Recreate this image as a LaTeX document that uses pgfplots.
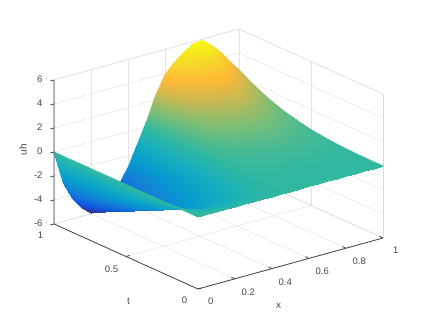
\documentclass[border=0pt]{standalone}
\usepackage{fontspec}
\setmainfont{Liberation Sans}
\usepackage{pgfplots}
\pgfplotsset{compat=1.18}
\pgfplotsset{colormap={parula}{rgb255=(53,42,135) rgb255=(14,88,225) rgb255=(20,125,215) rgb255=(6,155,206) rgb255=(20,174,190) rgb255=(50,184,160) rgb255=(120,190,120) rgb255=(195,185,85) rgb255=(254,185,55) rgb255=(245,218,40) rgb255=(249,251,14)}}
\definecolor{axc}{RGB}{70,70,70}
\pgfplotsset{tk/.style={color=axc, line width=0.8pt, no marks, forget plot, mark=none, solid}}
\begin{document}
\begin{tikzpicture}
\useasboundingbox (0,0) rectangle (424pt,319pt);
\begin{axis}[
  at={(198pt,102pt)}, anchor=origin,
  x={(185pt,51pt)}, y={(-144pt,65pt)}, z={(0pt,12pt)},
  xmin=0,xmax=1,ymin=0,ymax=1,zmin=-6,zmax=6,
  xtick={0,0.2,0.4,0.6,0.8,1}, ytick={0,0.5,1}, ztick={-6,-4,-2,0,2,4,6},
  xticklabel pos=lower, yticklabel pos=lower, zticklabel pos=lower,
  grid=major, grid style={gray!22, line width=0.5pt},
  axis line style={gray!30, line width=0.5pt},
  major tick length=0pt,
  tick style={draw=none},
  tick label style={font=\fontsize{9.5}{10}\selectfont, text=axc},
  xticklabel style={xshift=8pt,yshift=-5pt},
  yticklabel style={xshift=-8pt,yshift=-4pt},
  zticklabel style={xshift=-8pt},
  label style={font=\fontsize{10}{10}\selectfont, text=axc},
  xlabel style={xshift=-32pt,yshift=-11pt},
  ylabel style={xshift=26pt,yshift=-14pt},
  zlabel style={yshift=0pt},
  /pgf/number format/assume math mode=true,
  xlabel={x}, ylabel={t}, zlabel={uh},
  colormap name=parula, point meta min=-5.9, point meta max=5.95,
  clip=false,
]
\addplot3[surf, shader=interp, z buffer=none, mesh/rows=11, mesh/cols=21, mesh/ordering=x varies] coordinates {
(1,1,2.6)(0.95,1,3.5)(0.9,1,4.5)(0.85,1,5.3)(0.8,1,5.9)(0.75,1,5.8)(0.7,1,5.3)(0.65,1,4.7)(0.6,1,3.9)(0.55,1,2.4)(0.5,1,0.4)(0.45,1,-1.3)(0.4,1,-3.0)(0.35,1,-4.1)(0.3,1,-5.2)(0.25,1,-5.85)(0.2,1,-5.9)(0.15,1,-5.3)(0.1,1,-4.3)(0.05,1,-2.8)(0,1,0)
(1,0.9,1.90)(0.95,0.9,2.55)(0.9,0.9,3.28)(0.85,0.9,3.86)(0.8,0.9,4.30)(0.75,0.9,4.23)(0.7,0.9,3.86)(0.65,0.9,3.43)(0.6,0.9,2.84)(0.55,0.9,1.75)(0.5,0.9,0.32)(0.45,0.9,-1.17)(0.4,0.9,-2.70)(0.35,0.9,-3.69)(0.3,0.9,-4.68)(0.25,0.9,-5.27)(0.2,0.9,-5.31)(0.15,0.9,-4.77)(0.1,0.9,-3.87)(0.05,0.9,-2.52)(0,0.9,0)
(1,0.8,1.33)(0.95,0.8,1.79)(0.9,0.8,2.30)(0.85,0.8,2.71)(0.8,0.8,3.02)(0.75,0.8,2.97)(0.7,0.8,2.71)(0.65,0.8,2.41)(0.6,0.8,2.00)(0.55,0.8,1.23)(0.5,0.8,0.26)(0.45,0.8,-1.04)(0.4,0.8,-2.40)(0.35,0.8,-3.28)(0.3,0.8,-4.16)(0.25,0.8,-4.68)(0.2,0.8,-4.72)(0.15,0.8,-4.24)(0.1,0.8,-3.44)(0.05,0.8,-2.24)(0,0.8,0)
(1,0.7,0.89)(0.95,0.7,1.20)(0.9,0.7,1.54)(0.85,0.7,1.82)(0.8,0.7,2.02)(0.75,0.7,1.99)(0.7,0.7,1.82)(0.65,0.7,1.61)(0.6,0.7,1.34)(0.55,0.7,0.82)(0.5,0.7,0.20)(0.45,0.7,-0.91)(0.4,0.7,-2.10)(0.35,0.7,-2.87)(0.3,0.7,-3.64)(0.25,0.7,-4.10)(0.2,0.7,-4.13)(0.15,0.7,-3.71)(0.1,0.7,-3.01)(0.05,0.7,-1.96)(0,0.7,0)
(1,0.6,0.56)(0.95,0.6,0.76)(0.9,0.6,0.97)(0.85,0.6,1.14)(0.8,0.6,1.27)(0.75,0.6,1.25)(0.7,0.6,1.14)(0.65,0.6,1.02)(0.6,0.6,0.84)(0.55,0.6,0.52)(0.5,0.6,0.14)(0.45,0.6,-0.78)(0.4,0.6,-1.80)(0.35,0.6,-2.46)(0.3,0.6,-3.12)(0.25,0.6,-3.51)(0.2,0.6,-3.54)(0.15,0.6,-3.18)(0.1,0.6,-2.58)(0.05,0.6,-1.68)(0,0.6,0)
(1,0.5,0.33)(0.95,0.5,0.44)(0.9,0.5,0.56)(0.85,0.5,0.66)(0.8,0.5,0.74)(0.75,0.5,0.73)(0.7,0.5,0.66)(0.65,0.5,0.59)(0.6,0.5,0.49)(0.55,0.5,0.30)(0.5,0.5,0.10)(0.45,0.5,-0.65)(0.4,0.5,-1.50)(0.35,0.5,-2.05)(0.3,0.5,-2.60)(0.25,0.5,-2.93)(0.2,0.5,-2.95)(0.15,0.5,-2.65)(0.1,0.5,-2.15)(0.05,0.5,-1.40)(0,0.5,0)
(1,0.4,0.17)(0.95,0.4,0.22)(0.9,0.4,0.29)(0.85,0.4,0.34)(0.8,0.4,0.38)(0.75,0.4,0.37)(0.7,0.4,0.34)(0.65,0.4,0.30)(0.6,0.4,0.25)(0.55,0.4,0.15)(0.5,0.4,0.06)(0.45,0.4,-0.52)(0.4,0.4,-1.20)(0.35,0.4,-1.64)(0.3,0.4,-2.08)(0.25,0.4,-2.34)(0.2,0.4,-2.36)(0.15,0.4,-2.12)(0.1,0.4,-1.72)(0.05,0.4,-1.12)(0,0.4,0)
(1,0.3,0.07)(0.95,0.3,0.09)(0.9,0.3,0.12)(0.85,0.3,0.14)(0.8,0.3,0.16)(0.75,0.3,0.16)(0.7,0.3,0.14)(0.65,0.3,0.13)(0.6,0.3,0.11)(0.55,0.3,0.06)(0.5,0.3,0.04)(0.45,0.3,-0.39)(0.4,0.3,-0.90)(0.35,0.3,-1.23)(0.3,0.3,-1.56)(0.25,0.3,-1.76)(0.2,0.3,-1.77)(0.15,0.3,-1.59)(0.1,0.3,-1.29)(0.05,0.3,-0.84)(0,0.3,0)
(1,0.2,0.02)(0.95,0.2,0.03)(0.9,0.2,0.04)(0.85,0.2,0.04)(0.8,0.2,0.05)(0.75,0.2,0.05)(0.7,0.2,0.04)(0.65,0.2,0.04)(0.6,0.2,0.03)(0.55,0.2,0.02)(0.5,0.2,0.02)(0.45,0.2,-0.26)(0.4,0.2,-0.60)(0.35,0.2,-0.82)(0.3,0.2,-1.04)(0.25,0.2,-1.17)(0.2,0.2,-1.18)(0.15,0.2,-1.06)(0.1,0.2,-0.86)(0.05,0.2,-0.56)(0,0.2,0)
(1,0.1,0)(0.95,0.1,0)(0.9,0.1,0)(0.85,0.1,0.01)(0.8,0.1,0.01)(0.75,0.1,0.01)(0.7,0.1,0.01)(0.65,0.1,0)(0.6,0.1,0)(0.55,0.1,0)(0.5,0.1,0)(0.45,0.1,-0.13)(0.4,0.1,-0.30)(0.35,0.1,-0.41)(0.3,0.1,-0.52)(0.25,0.1,-0.59)(0.2,0.1,-0.59)(0.15,0.1,-0.53)(0.1,0.1,-0.43)(0.05,0.1,-0.28)(0,0.1,0)
(1,0,0)(0.95,0,0)(0.9,0,0)(0.85,0,0)(0.8,0,0)(0.75,0,0)(0.7,0,0)(0.65,0,0)(0.6,0,0)(0.55,0,0)(0.5,0,0)(0.45,0,0)(0.4,0,0)(0.35,0,0)(0.3,0,0)(0.25,0,0)(0.2,0,0)(0.15,0,0)(0.1,0,0)(0.05,0,0)(0,0,0)
};
\addplot3[mesh, line width=0.8pt, forget plot] coordinates {(1,0,0)(1,0.1,0)(1,0.2,0.02)(1,0.3,0.07)(1,0.4,0.17)(1,0.5,0.33)(1,0.6,0.56)(1,0.7,0.89)(1,0.8,1.33)(1,0.9,1.90)(1,1,2.6)(0.95,1,3.5)(0.9,1,4.5)(0.85,1,5.3)(0.8,1,5.9)(0.75,1,5.8)(0.7,1,5.3)(0.65,1,4.7)(0.6,1,3.9)(0.55,1,2.4)(0.5,1,0.4)(0.45,1,-1.3)(0.4,1,-3.0)(0.37,1,-3.7)};
\addplot3[mesh, line width=0.8pt, forget plot] coordinates {(0,1,0)(0.05,1,-2.8)(0.1,1,-4.3)(0.15,1,-5.3)(0.2,1,-5.9)};
\addplot3[mesh, line width=0.8pt, forget plot] coordinates {(0,1,0)(0,0,0)(1,0,0)};
% axis lines and tick marks
\addplot3[tk] coordinates {(0,1,6)(0,1,-6)(0,0,-6)(1,0,-6)};
\addplot3[tk] coordinates {(0.2,0,-6)(0.2,0.025,-6)};
\addplot3[tk] coordinates {(0.4,0,-6)(0.4,0.025,-6)};
\addplot3[tk] coordinates {(0.6,0,-6)(0.6,0.025,-6)};
\addplot3[tk] coordinates {(0.8,0,-6)(0.8,0.025,-6)};
\addplot3[tk] coordinates {(1,0,-6)(1,0.025,-6)};
\addplot3[tk] coordinates {(0,0,-6)(0.02,0,-6)};
\addplot3[tk] coordinates {(0,0.5,-6)(0.02,0.5,-6)};
\addplot3[tk] coordinates {(0,1,-6)(-0.02,1,-6)};
\addplot3[tk] coordinates {(0,1,-4)(-0.02,1,-4)};
\addplot3[tk] coordinates {(0,1,-2)(-0.02,1,-2)};
\addplot3[tk] coordinates {(0,1,0)(-0.02,1,0)};
\addplot3[tk] coordinates {(0,1,2)(-0.02,1,2)};
\addplot3[tk] coordinates {(0,1,4)(-0.02,1,4)};
\addplot3[tk] coordinates {(0,1,6)(-0.02,1,6)};
\end{axis}
\end{tikzpicture}
\end{document}
